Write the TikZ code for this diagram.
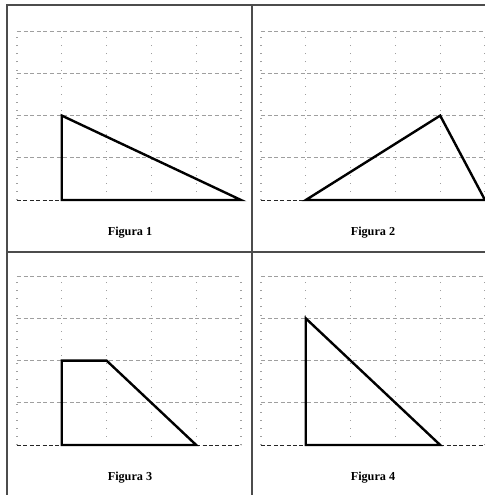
\documentclass[tikz,border=0pt]{standalone}
\usepackage{fontspec}
\setmainfont{Liberation Serif}
\begin{document}
\begin{tikzpicture}[
    x=0.5pt, y=-0.5pt,
    frame/.style = { line width=0.8pt, color=gray!60!black },
    hline/.style = { gray!75, line width=0.35pt, dash pattern=on 2pt off 1.3pt },
    vline/.style = { gray!75, line width=0.55pt, dash pattern=on 0.45pt off 3.6pt },
    baseline/.style = { gray!30!black, line width=0.45pt, dash pattern=on 2pt off 1.2pt },
    figure/.style = { line width=1.2pt, line join=miter },
    caption/.style = { font=\fontsize{6.1}{7}\selectfont\bfseries },
    ]

    \useasboundingbox (0,0) rectangle (485,495);

    % frame
    \draw[frame] (7,495) -- (7,5) -- (485,5);
    \draw[frame] (252,5) -- (252,495);
    \draw[frame] (7,252) -- (485,252);

    % grids
    \foreach \px/\py in {17/200, 261/200, 17/445, 261/445} {
      \begin{scope}[shift={(\px,\py)}, x=22.4pt, y=21.1pt]
        \foreach \i in {0,...,5}
          \draw[vline] (\i,0) -- (\i,4);
        \foreach \j in {1,...,4}
          \draw[hline] (0,\j) -- (5,\j);
        \draw[baseline] (0,0) -- (5,0);
      \end{scope}
    }

    % Figura 1
    \begin{scope}[shift={(17,200)}, x=22.4pt, y=21.1pt]
      \coordinate (A1) at (1,0);
      \coordinate (B1) at (1,2);
      \coordinate (C1) at (5,0);
      \draw[figure] (A1) -- (B1) -- (C1) -- cycle;
    \end{scope}

    % Figura 2
    \begin{scope}[shift={(261,200)}, x=22.4pt, y=21.1pt]
      \coordinate (A2) at (1,0);
      \coordinate (B2) at (4,2);
      \coordinate (C2) at (5,0);
      \draw[figure] (A2) -- (B2) -- (C2) -- cycle;
    \end{scope}

    % Figura 3
    \begin{scope}[shift={(17,445)}, x=22.4pt, y=21.1pt]
      \coordinate (A3) at (1,0);
      \coordinate (B3) at (1,2);
      \coordinate (C3) at (2,2);
      \coordinate (D3) at (4,0);
      \draw[figure] (A3) -- (B3) -- (C3) -- (D3) -- cycle;
    \end{scope}

    % Figura 4
    \begin{scope}[shift={(261,445)}, x=22.4pt, y=21.1pt]
      \coordinate (A4) at (1,0);
      \coordinate (B4) at (1,3);
      \coordinate (C4) at (4,0);
      \draw[figure] (A4) -- (B4) -- (C4) -- cycle;
    \end{scope}

    % captions
    \node[caption] (cap1) at (130,233) {Figura 1};
    \node[caption] (cap2) at (373,233) {Figura 2};
    \node[caption] (cap3) at (130,478) {Figura 3};
    \node[caption] (cap4) at (373,478) {Figura 4};

  \end{tikzpicture}
\end{document}
